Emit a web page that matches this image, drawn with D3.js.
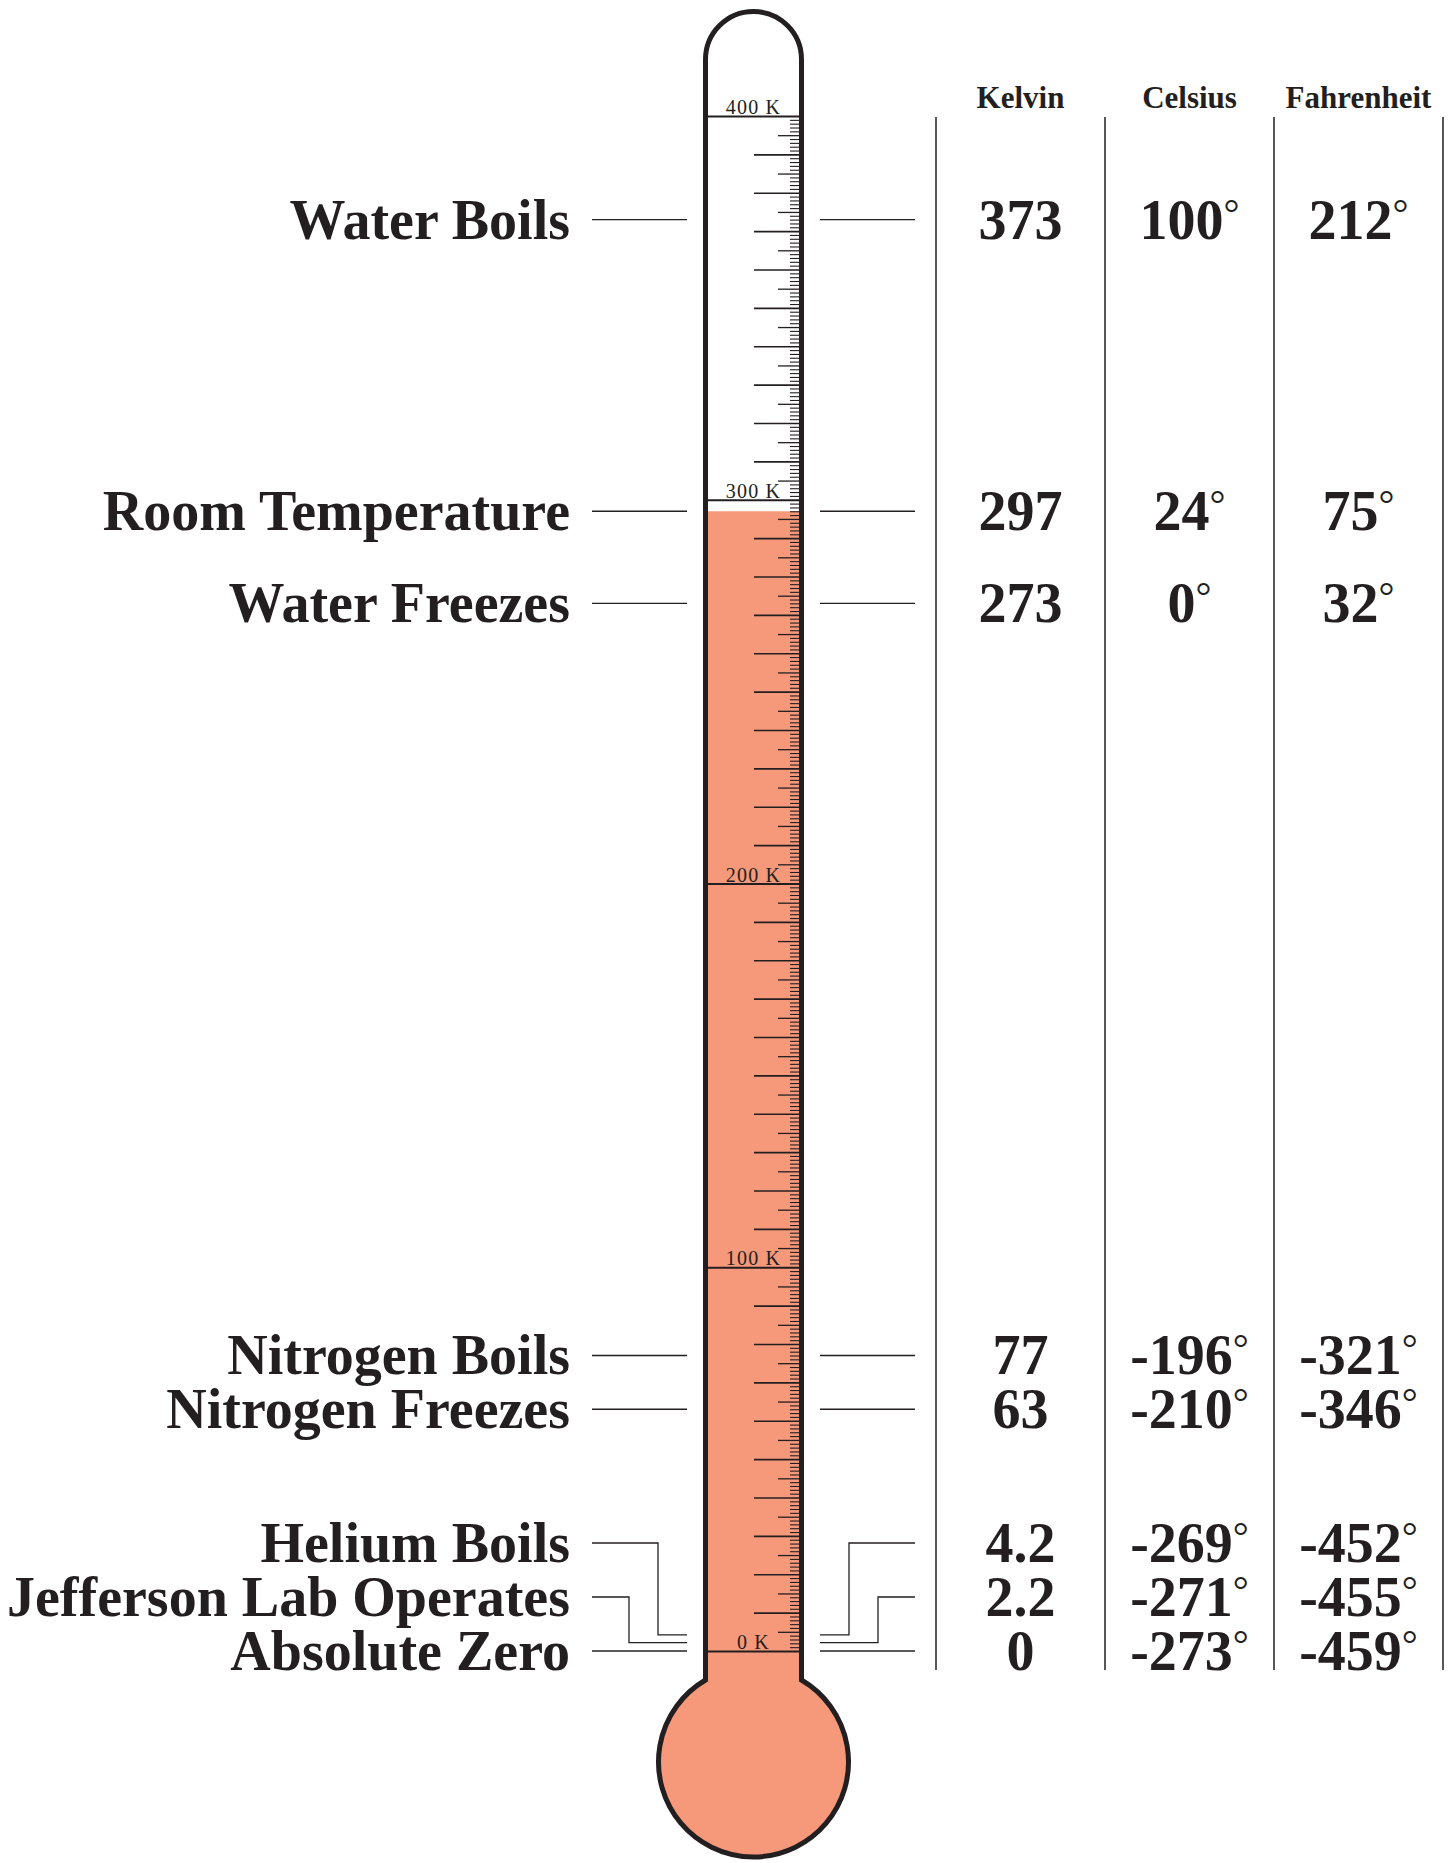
<html>
  <head>
    <script src="https://cdnjs.cloudflare.com/ajax/libs/d3/7.8.5/d3.min.js"></script>
    <style>
      body { margin: 0; background: #fff; }
      svg { display: block; }
      text { font-family: "Liberation Serif", "Times New Roman", serif; fill: #231f20; }
    </style>
  </head>
  <body>
    <svg width="1452" height="1863"></svg>
    <script>
      // data
      const events = ["Water Boils", "Room Temperature", "Water Freezes", "Nitrogen Boils",
        "Nitrogen Freezes", "Helium Boils", "Jefferson Lab Operates", "Absolute Zero"];
      const kelvin = [373, 297, 273, 77, 63, 4.2, 2.2, 0];
      const celsius = [100, 24, 0, -196, -210, -269, -271, -273];
      const fahrenheit = [212, 75, 32, -321, -346, -452, -455, -459];
      const columns = ["Kelvin", "Celsius", "Fahrenheit"];
      const scaleLabels = [0, 100, 200, 300, 400];
      const mercury = 297;

      const ink = "#231f20";
      const svg = d3.select("svg");

      const y = d3.scaleLinear().domain([0, 400]).range([1651, 116]);
      const cx = 753.5;
      const tubeL = 705.5, tubeR = 801.5;
      const innerL = 708, innerR = 799;

      const col = d3.scaleBand().domain(columns).range([936, 1443]);

      // thermometer outline
      const outline = `M${tubeL},1680 L${tubeL},59.5 A48,48 0 0 1 ${tubeR},59.5 L${tubeR},1680 A95,95 0 1 1 ${tubeL},1680 Z`;
      svg.append("clipPath").attr("id", "tube").append("path").attr("d", outline);
      svg.append("path").attr("d", outline).attr("fill", "#fff");
      svg.append("rect")
        .attr("clip-path", "url(#tube)")
        .attr("x", 640).attr("width", 230)
        .attr("y", y(mercury)).attr("height", 1863 - y(mercury))
        .attr("fill", "#f5997a");

      // tick marks
      const tickSets = [
        { values: y.ticks(400).filter(d => d % 5 !== 0), size: 9, w: 1.1 },
        { values: y.ticks(80).filter(d => d % 10 !== 0), size: 21, w: 1.3 },
        { values: y.ticks(40).filter(d => d % 100 !== 0), size: 45, w: 1.6 },
        { values: scaleLabels, size: innerR - innerL, w: 1.8 }
      ];
      tickSets.forEach(t => {
        const g = svg.append("g")
          .attr("transform", `translate(${innerR},0)`)
          .call(d3.axisLeft(y).tickValues(t.values).tickSize(t.size).tickFormat(""));
        g.select(".domain").remove();
        g.selectAll("line").attr("stroke", ink).attr("stroke-width", t.w);
      });

      svg.selectAll(".klabel").data(scaleLabels).join("text")
        .attr("class", "klabel")
        .attr("x", cx).attr("y", d => y(d) - 2)
        .attr("text-anchor", "middle")
        .attr("font-size", 20)
        .attr("letter-spacing", 1.2)
        .text(d => d + " K");

      svg.append("path").attr("d", outline)
        .attr("fill", "none").attr("stroke", ink).attr("stroke-width", 5)
        .attr("stroke-linejoin", "miter");

      // label positions: spread crowded rows apart
      const gap = 54;
      const ly = kelvin.map(k => y(k));
      for (let i = ly.length - 2; i >= 0; i--) ly[i] = Math.min(ly[i], ly[i + 1] - gap);

      let rank = 0;
      const links = [];
      kelvin.forEach((k, i) => {
        const ky = y(k);
        if (ky - ly[i] > 1) {
          const off = 95.5 + 29 * rank++;
          links.push(`M592,${ly[i]} H${cx - off} V${ky} H687`);
          links.push(`M915,${ly[i]} H${cx + off} V${ky} H820`);
        } else {
          links.push(`M592,${ky} H687`);
          links.push(`M915,${ky} H820`);
        }
      });
      svg.selectAll(".link").data(links).join("path")
        .attr("class", "link")
        .attr("d", d => d)
        .attr("fill", "none").attr("stroke", ink).attr("stroke-width", 1.3);

      // event names
      svg.selectAll(".name").data(events).join("text")
        .attr("class", "name")
        .attr("x", 570).attr("y", (d, i) => ly[i] + 19)
        .attr("text-anchor", "end")
        .attr("font-size", 56).attr("font-weight", "bold")
        .text(d => d);

      // table columns
      const cols = [columns[0], columns[1], columns[2]];
      svg.selectAll(".divider").data([...cols.map(c => col(c)), col.range()[1]]).join("line")
        .attr("class", "divider")
        .attr("x1", d => d).attr("x2", d => d)
        .attr("y1", 117).attr("y2", 1670)
        .attr("stroke", ink).attr("stroke-width", 1.5);

      svg.selectAll(".head").data(columns).join("text")
        .attr("class", "head")
        .attr("x", d => col(d) + col.bandwidth() / 2).attr("y", 108)
        .attr("text-anchor", "middle")
        .attr("font-size", 31).attr("font-weight", "bold")
        .text(d => d);

      const series = [
        { name: "Kelvin", values: kelvin, deg: false },
        { name: "Celsius", values: celsius, deg: true },
        { name: "Fahrenheit", values: fahrenheit, deg: true }
      ];
      series.forEach(s => {
        const t = svg.selectAll(".v-" + s.name).data(s.values).join("text")
          .attr("class", "v-" + s.name)
          .attr("x", col(s.name) + col.bandwidth() / 2)
          .attr("y", (d, i) => ly[i] + 19)
          .attr("text-anchor", "middle")
          .attr("font-size", 56).attr("font-weight", "bold");
        t.append("tspan").text(d => String(d));
        if (s.deg) {
          t.append("tspan").text("°")
            .attr("font-weight", "normal").attr("font-size", 40)
            .attr("dy", -12);
        }
      });
    </script>
  </body>
</html>
